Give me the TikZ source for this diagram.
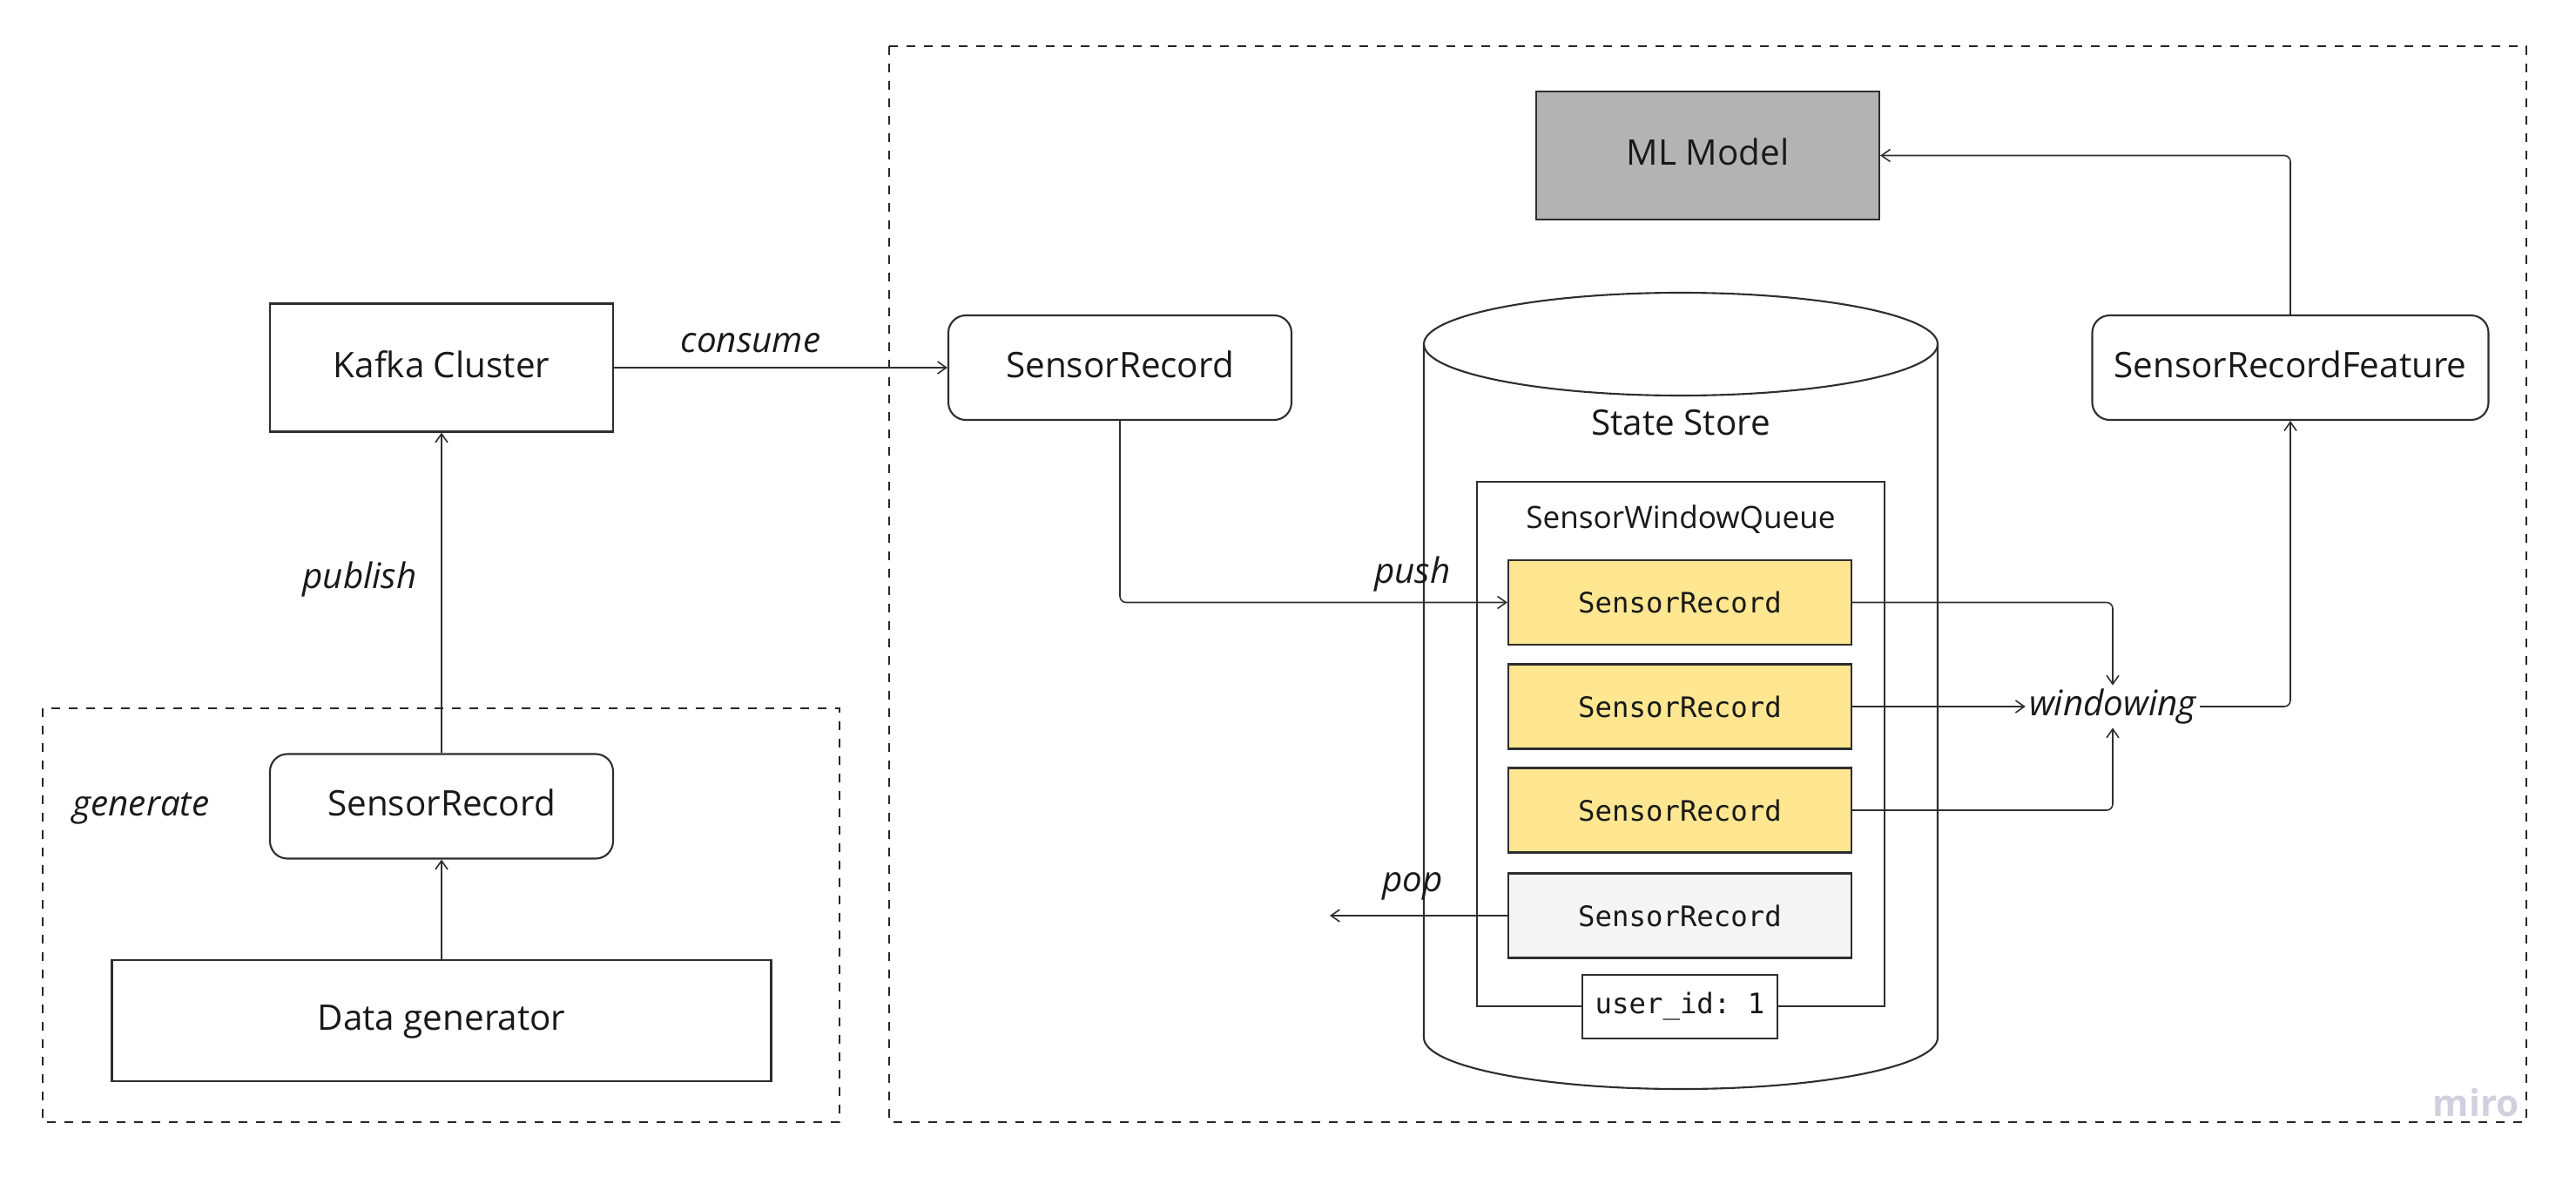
\documentclass[tikz,border=0pt]{standalone}
\usepackage{fontspec}
\setmainfont{Open Sans}
\setmonofont{DejaVu Sans Mono}
\usetikzlibrary{arrows.meta}
\definecolor{recyellow}{HTML}{FFE690}
\definecolor{recgray}{HTML}{F4F4F4}
\definecolor{modelgray}{HTML}{B3B3B3}
\definecolor{inkgray}{HTML}{2E2E2E}
\definecolor{wmark}{HTML}{D0D0DE}

\begin{document}
\begin{tikzpicture}[>={Straight Barb[length=1mm,width=1.4mm]},
  every node/.style={font=\fontsize{11.5}{14}\selectfont,text=black!90},
  box/.style={rectangle,draw=inkgray,line width=0.6pt,minimum width=3.94cm,minimum height=1.47cm,text height=0.75em,text depth=0.1em},
  rbox/.style={box,rounded corners=0.2cm,minimum height=1.2cm},
  rec/.style={rectangle,draw=inkgray,line width=0.6pt,fill=recyellow,minimum width=3.94cm,minimum height=0.97cm,font=\ttfamily\fontsize{9.2}{11}\selectfont},
  zone/.style={draw=black!85,line width=0.75pt,dash pattern=on 0.1cm off 0.1cm},
  flow/.style={draw=inkgray,line width=0.45pt,->,rounded corners=2pt},
  verb/.style={font=\itshape\fontsize{11.5}{14}\selectfont}]
\useasboundingbox (0,0) rectangle (29.58,-13.51);
\draw[zone] (0.49,-8.13) rectangle (9.64,-12.88);
\draw[zone] (10.21,-0.53) rectangle (29.01,-12.88);

\node at (5.07,-4.22) (kafka) [box] {Kafka Cluster};
\node at (5.07,-9.255) (gen) [rbox] {SensorRecord};
\node at (5.07,-11.715) (datagen) [box,minimum width=7.57cm,minimum height=1.39cm] {Data generator};
\node at (12.86,-4.22) (rec) [rbox] {SensorRecord};
\node at (19.61,-1.785) (model) [box,fill=modelgray] {ML Model};
\node at (26.30,-4.22) (feature) [rbox,minimum width=4.55cm] {SensorRecordFeature};

\draw[draw=inkgray,line width=0.6pt] (16.35,-3.95) -- (16.35,-11.91) arc[start angle=180,end angle=360,x radius=2.95,y radius=0.59] -- (22.25,-3.95);
\draw[draw=inkgray,line width=0.6pt] (19.30,-3.95) ellipse[x radius=2.95,y radius=0.59];
\node at (19.30,-4.85) (store) {State Store};
\node at (19.30,-8.54) (queue) [rectangle,draw=inkgray,line width=0.6pt,minimum width=4.68cm,minimum height=6.02cm] {};
\node at (19.30,-5.96) (queuetitle) [font=\fontsize{10}{12}\selectfont] {SensorWindowQueue};
\node at (19.29,-6.915) (r1) [rec] {SensorRecord};
\node at (19.29,-8.11) (r2) [rec] {SensorRecord};
\node at (19.29,-9.30) (r3) [rec] {SensorRecord};
\node at (19.29,-10.51) (r4) [rec,fill=recgray] {SensorRecord};
\node at (19.29,-11.555) (uid) [rec,fill=white,minimum width=2.24cm,minimum height=0.73cm] {user\_id: 1};
\node at (24.26,-8.11) (win) [verb,inner sep=1pt] {windowing};
\coordinate (popend) at (15.27,-10.51);

\draw[flow] (datagen.north) -- (gen.south);
\draw[flow] (gen.north) -- (kafka.south);
\draw[flow] (kafka.east) -- (rec.west);
\draw[flow] (rec.south) |- (r1.west);
\draw[flow] (r1.east) -| (win.north);
\draw[flow] (r2.east) -- (win.west);
\draw[flow] (r3.east) -| (win.south);
\draw[flow] (win.east) -| (feature.south);
\draw[flow] (feature.north) |- (model.east);
\draw[flow] (r4.west) -- (popend);

\node at (1.62,-9.28) (generate) [verb] {generate};
\node at (4.13,-6.65) (publish) [verb] {publish};
\node at (8.62,-3.94) (consume) [verb] {consume};
\node at (16.22,-6.59) (push) [verb] {push};
\node at (16.22,-10.17) (pop) [verb] {pop};
\node at (29.05,-12.66) (miro) [anchor=east,font=\bfseries\fontsize{12}{14}\selectfont,text=wmark] {miro};
\end{tikzpicture}
\end{document}
